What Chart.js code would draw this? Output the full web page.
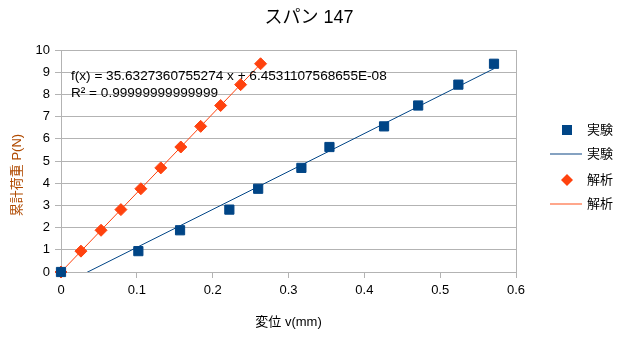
<!DOCTYPE html>
<html>
<head>
<meta charset="utf-8">
<script src="https://cdn.jsdelivr.net/npm/chart.js@4"></script>
<style>
  html, body { margin: 0; padding: 0; background: #fff; }
  #wrap { width: 626px; height: 346px; }
</style>
</head>
<body>
<div id="wrap"><canvas id="span-chart" width="626" height="346"></canvas></div>
<script>
(function () {
  'use strict';

  const FONT = '"Liberation Sans", "Noto Sans CJK JP", sans-serif';

  // 累計荷重 P(N)
  const loadN = [0, 0.94, 1.88, 2.81, 3.75, 4.69, 5.63, 6.56, 7.5, 8.44, 9.38];
  // 実験 変位 v(mm)
  const expDisp = [0, 0.102, 0.157, 0.222, 0.26, 0.317, 0.354, 0.426, 0.471, 0.524, 0.571];
  // 解析 変位 v(mm)
  const anaDisp = [0, 0.0263, 0.0528, 0.079, 0.1053, 0.1316, 0.158, 0.1842, 0.2105, 0.2369, 0.2632];

  const xTicks = [0, 0.1, 0.2, 0.3, 0.4, 0.5, 0.6];
  const yTicks = [0, 1, 2, 3, 4, 5, 6, 7, 8, 9, 10];

  const titleText = 'スパン 147';
  const xTitle = '変位 v(mm)';
  const yTitle = '累計荷重 P(N)';
  const eqLines = ['f(x) = 35.6327360755274 x + 6.4531107568655E-08', 'R² = 0.99999999999999'];

  const BLUE = '#004586';
  const ORANGE = '#ff420e';
  const GRID = '#b3b3b3';

  function points(xs, ys) {
    return xs.map((x, i) => ({ x: x, y: ys[i] }));
  }

  // least squares line, drawn from x = 0 to the last point
  function trend(xs, ys) {
    const n = xs.length;
    const mx = xs.reduce((a, b) => a + b, 0) / n;
    const my = ys.reduce((a, b) => a + b, 0) / n;
    let sxy = 0, sxx = 0;
    for (let i = 0; i < n; i++) {
      sxy += (xs[i] - mx) * (ys[i] - my);
      sxx += (xs[i] - mx) * (xs[i] - mx);
    }
    const a = sxy / sxx;
    const b = my - a * mx;
    const xmax = Math.max.apply(null, xs);
    return [{ x: 0, y: b }, { x: xmax, y: a * xmax + b }];
  }

  const extras = {
    id: 'extras',
    afterDraw(chart) {
      const ctx = chart.ctx;
      ctx.save();
      ctx.fillStyle = '#000';
      ctx.textBaseline = 'middle';

      ctx.font = '18px ' + FONT;
      ctx.textAlign = 'center';
      ctx.fillText(titleText, 309, 18);

      ctx.font = '13.6px ' + FONT;
      ctx.textAlign = 'left';
      ctx.fillText(eqLines[0], 71, 76);
      ctx.fillText(eqLines[1], 71, 93);

      ctx.font = '13px ' + FONT;
      ctx.save();
      ctx.translate(17, 175);
      ctx.rotate(-Math.PI / 2);
      ctx.textAlign = 'center';
      ctx.fillStyle = '#b04a00';
      ctx.fillText(yTitle, 0, 0);
      ctx.restore();

      // legend
      const rows = [130, 154, 180, 204];
      const labels = ['実験', '実験', '解析', '解析'];
      ctx.fillStyle = BLUE;
      ctx.fillRect(562, 125, 10, 10);
      ctx.strokeStyle = '#5d83ad';
      ctx.lineWidth = 1.5;
      ctx.beginPath(); ctx.moveTo(550, rows[1]); ctx.lineTo(582, rows[1]); ctx.stroke();
      ctx.fillStyle = ORANGE;
      ctx.beginPath();
      ctx.moveTo(567, rows[2] - 6); ctx.lineTo(573, rows[2]);
      ctx.lineTo(567, rows[2] + 6); ctx.lineTo(561, rows[2]);
      ctx.closePath(); ctx.fill();
      ctx.strokeStyle = '#ff8a66';
      ctx.beginPath(); ctx.moveTo(550, rows[3]); ctx.lineTo(582, rows[3]); ctx.stroke();
      ctx.fillStyle = '#000';
      labels.forEach((t, i) => ctx.fillText(t, 587, rows[i]));
      ctx.restore();
    }
  };

  const canvas = document.getElementById('span-chart');
  new Chart(canvas, {
    type: 'scatter',
    data: {
      datasets: [
        {
          label: '実験',
          data: points(expDisp, loadN),
          pointStyle: 'rect',
          pointRadius: 6.5,
          backgroundColor: BLUE,
          borderColor: BLUE,
          borderWidth: 1,
          showLine: false,
          clip: false,
          order: 0
        },
        {
          label: '実験',
          data: trend(expDisp, loadN),
          showLine: true,
          borderColor: BLUE,
          borderWidth: 1,
          pointRadius: 0,
          order: 3
        },
        {
          label: '解析',
          data: points(anaDisp, loadN),
          pointStyle: 'rectRot',
          pointRadius: 6,
          backgroundColor: ORANGE,
          borderColor: ORANGE,
          borderWidth: 1,
          showLine: false,
          clip: false,
          order: 1
        },
        {
          label: '解析',
          data: trend(anaDisp, loadN),
          showLine: true,
          borderColor: ORANGE,
          borderWidth: 1,
          pointRadius: 0,
          order: 2
        }
      ]
    },
    options: {
      responsive: false,
      animation: false,
      layout: { padding: { top: 50, right: 110, left: 0, bottom: 0 } },
      plugins: {
        legend: { display: false },
        tooltip: { enabled: false }
      },
      scales: {
        x: {
          type: 'linear',
          min: 0,
          max: 0.6,
          afterFit: function (scale) { scale.height = 74; },
          afterBuildTicks: function (scale) { scale.ticks = xTicks.map(v => ({ value: v })); },
          ticks: {
            color: '#000',
            font: { family: FONT, size: 13 },
            padding: 5,
            maxRotation: 0,
            callback: function (v) { return String(v); }
          },
          grid: {
            color: ctx => (ctx.tick && ctx.tick.value === 0.6 ? GRID : 'rgba(0,0,0,0)'),
            tickColor: GRID,
            tickLength: 6
          },
          border: { color: GRID },
          title: {
            display: true,
            text: xTitle,
            color: '#000',
            font: { family: FONT, size: 13 },
            padding: { top: 0, bottom: 16 }
          }
        },
        y: {
          type: 'linear',
          min: 0,
          max: 10,
          afterFit: function (scale) { scale.width = 61; },
          afterBuildTicks: function (scale) { scale.ticks = yTicks.map(v => ({ value: v })); },
          ticks: {
            color: '#000',
            font: { family: FONT, size: 13 },
            padding: 5
          },
          grid: {
            color: GRID,
            tickColor: GRID,
            tickLength: 6
          },
          border: { color: GRID }
        }
      }
    },
    plugins: [extras]
  });
})();
</script>
</body>
</html>
